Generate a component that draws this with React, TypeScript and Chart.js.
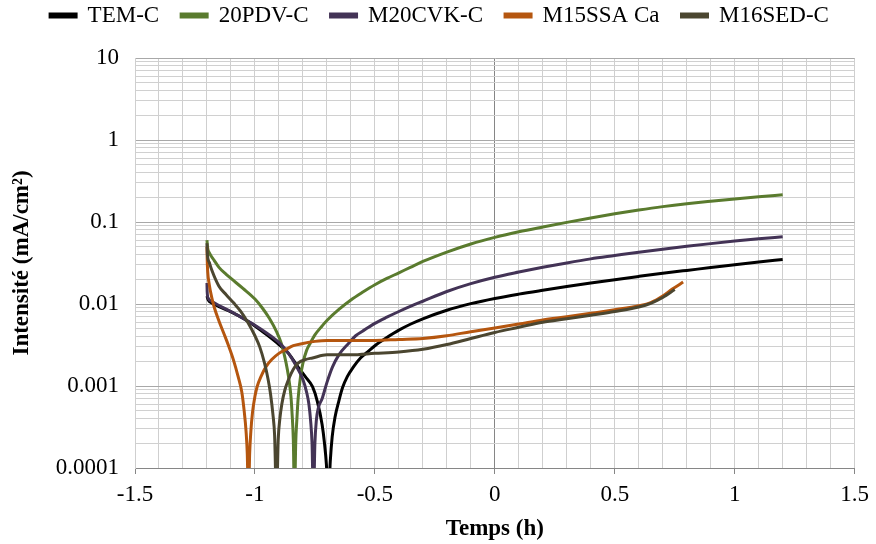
import React, { useEffect, useRef } from 'react';
import { Chart, registerables } from 'chart.js';

Chart.register(...registerables);

const seriesNames = ['TEM-C', '20PDV-C', 'M20CVK-C', 'M15SSA Ca', 'M16SED-C'];
const seriesColors = ['#000000', '#5a7b2e', '#433356', '#b5560f', '#4b4630'];

// TEM-C
const temX = [-1.2, -1.195, -1.18, -1.15, -1.1, -1.05, -1.0, -0.95, -0.9, -0.86, -0.82, -0.79, -0.76, -0.74, -0.72, -0.71, -0.702, -0.694, -0.686, -0.678, -0.666, -0.65, -0.635, -0.615, -0.59, -0.56, -0.53, -0.5, -0.45, -0.4, -0.35, -0.3, -0.2, -0.1, 0, 0.1, 0.2, 0.3, 0.4, 0.5, 0.6, 0.7, 0.8, 0.9, 1.0, 1.1, 1.2];
const temY = [0.0125, 0.0112, 0.0103, 0.0093, 0.008, 0.0067, 0.0054, 0.0042, 0.0032, 0.0025, 0.0017, 0.0013, 0.00098, 0.00065, 0.00034, 0.0002, 0.00011, 0.00004, 0.00012, 0.00024, 0.00042, 0.00066, 0.00095, 0.0013, 0.0017, 0.0022, 0.0026, 0.0031, 0.0039, 0.0048, 0.0057, 0.0066, 0.0084, 0.0101, 0.0117, 0.0132, 0.0147, 0.0163, 0.018, 0.0198, 0.0217, 0.0237, 0.0257, 0.0278, 0.0302, 0.0326, 0.035];

// 20PDV-C
const pdvX = [-1.2, -1.197, -1.19, -1.17, -1.15, -1.12, -1.1, -1.05, -1.0, -0.97, -0.94, -0.91, -0.89, -0.87, -0.86, -0.85, -0.845, -0.84, -0.835, -0.83, -0.825, -0.82, -0.81, -0.8, -0.785, -0.77, -0.75, -0.72, -0.7, -0.65, -0.6, -0.55, -0.5, -0.45, -0.4, -0.35, -0.3, -0.2, -0.1, 0, 0.1, 0.2, 0.3, 0.4, 0.5, 0.6, 0.7, 0.8, 0.9, 1.0, 1.1, 1.2];
const pdvY = [0.06, 0.048, 0.042, 0.034, 0.028, 0.023, 0.0205, 0.0155, 0.0115, 0.009, 0.0067, 0.0046, 0.0033, 0.0019, 0.0013, 0.00075, 0.00045, 0.00022, 0.00004, 0.0002, 0.0004, 0.0007, 0.0013, 0.0019, 0.0027, 0.0033, 0.0042, 0.0054, 0.0063, 0.0086, 0.0112, 0.014, 0.0172, 0.0205, 0.024, 0.0282, 0.033, 0.043, 0.054, 0.065, 0.076, 0.087, 0.099, 0.112, 0.126, 0.14, 0.154, 0.167, 0.179, 0.191, 0.203, 0.215];

// M20CVK-C
const cvkX = [-1.2, -1.199, -1.195, -1.18, -1.15, -1.1, -1.05, -1.0, -0.95, -0.9, -0.86, -0.83, -0.8, -0.785, -0.775, -0.768, -0.762, -0.756, -0.75, -0.744, -0.735, -0.72, -0.7, -0.677, -0.65, -0.61, -0.58, -0.55, -0.5, -0.45, -0.4, -0.35, -0.3, -0.2, -0.1, 0, 0.1, 0.2, 0.3, 0.4, 0.5, 0.6, 0.7, 0.8, 0.9, 1.0, 1.1, 1.2];
const cvkY = [0.018, 0.014, 0.0118, 0.0108, 0.0096, 0.0081, 0.0067, 0.0055, 0.0044, 0.0034, 0.0025, 0.0018, 0.0012, 0.00085, 0.0006, 0.00038, 0.0002, 0.00004, 0.0002, 0.00038, 0.00055, 0.0007, 0.0011, 0.0017, 0.0024, 0.0033, 0.0041, 0.0047, 0.0058, 0.0069, 0.0081, 0.0094, 0.0108, 0.0142, 0.0177, 0.0212, 0.0245, 0.028, 0.0317, 0.0355, 0.039, 0.0428, 0.0466, 0.0505, 0.0545, 0.0585, 0.0623, 0.066];

// M15SSA Ca
const ssaX = [-1.2, -1.199, -1.197, -1.19, -1.18, -1.17, -1.15, -1.13, -1.11, -1.09, -1.07, -1.055, -1.045, -1.037, -1.032, -1.027, -1.022, -1.017, -1.01, -1.0, -0.99, -0.975, -0.955, -0.93, -0.9, -0.87, -0.84, -0.8, -0.75, -0.7, -0.6, -0.5, -0.4, -0.3, -0.2, -0.1, 0, 0.1, 0.2, 0.3, 0.4, 0.5, 0.6, 0.65, 0.7, 0.74, 0.785];
const ssaY = [0.05, 0.035, 0.025, 0.017, 0.012, 0.0092, 0.0062, 0.0044, 0.0031, 0.0021, 0.0013, 0.00085, 0.0005, 0.00028, 0.00015, 0.00004, 0.00015, 0.00028, 0.00048, 0.00075, 0.001, 0.0013, 0.0017, 0.0021, 0.0025, 0.0028, 0.0031, 0.0033, 0.0035, 0.0036, 0.0036, 0.0036, 0.0037, 0.0038, 0.0041, 0.0046, 0.0051, 0.0057, 0.0064, 0.007, 0.0077, 0.0085, 0.0095, 0.0104, 0.0125, 0.0152, 0.0185];

// M16SED-C
const sedX = [-1.2, -1.198, -1.19, -1.18, -1.15, -1.12, -1.09, -1.06, -1.03, -1.0, -0.98, -0.96, -0.945, -0.935, -0.925, -0.918, -0.91, -0.903, -0.896, -0.888, -0.875, -0.86, -0.84, -0.82, -0.79, -0.76, -0.7, -0.6, -0.5, -0.4, -0.3, -0.2, -0.1, 0, 0.1, 0.2, 0.3, 0.4, 0.5, 0.6, 0.65, 0.7, 0.75];
const sedY = [0.055, 0.04, 0.032, 0.026, 0.0165, 0.013, 0.0104, 0.0082, 0.006, 0.0041, 0.003, 0.0019, 0.0012, 0.0008, 0.00045, 0.00025, 0.00004, 0.00022, 0.0004, 0.0006, 0.0009, 0.0012, 0.0016, 0.0019, 0.0021, 0.0022, 0.0024, 0.0024, 0.0025, 0.0026, 0.0028, 0.0032, 0.0038, 0.0045, 0.0052, 0.006, 0.0066, 0.0073, 0.0081, 0.0092, 0.0102, 0.012, 0.015];

const seriesX = [temX, pdvX, cvkX, ssaX, sedX];
const seriesY = [temY, pdvY, cvkY, ssaY, sedY];

const xMin = -1.5;
const xMax = 1.5;
const xGridStep = 0.1;
const xLabelValues = [-1.5, -1, -0.5, 0, 0.5, 1, 1.5];
const xLabelTexts = ['-1.5', '-1', '-0.5', '0', '0.5', '1', '1.5'];

const yDecades = [0.0001, 0.001, 0.01, 0.1, 1, 10];
const yDecadeLabels = ['0.0001', '0.001', '0.01', '0.1', '1', '10'];
const yMinorMultipliers = [2, 3, 4, 5, 6, 7, 8, 9];

const xTitle = 'Temps (h)';
const yTitle = 'Intensité (mA/cm²)';

const FONT = "'Liberation Serif', 'Times New Roman', serif";
const FS = 23;

function buildYTicks() {
  const out: number[] = [];
  yDecades.forEach((d, i) => {
    out.push(d);
    if (i < yDecades.length - 1) {
      yMinorMultipliers.forEach((m) => out.push(Number((d * m).toPrecision(6))));
    }
  });
  return out;
}

function buildXTicks() {
  const out: number[] = [];
  const n = Math.round((xMax - xMin) / xGridStep);
  for (let i = 0; i <= n; i++) out.push(Number((xMin + i * xGridStep).toFixed(4)));
  return out;
}

function isDecade(v: number) {
  const l = Math.log10(v);
  return Math.abs(l - Math.round(l)) < 1e-6;
}

function xLabelIndex(v: number) {
  return xLabelValues.findIndex((t) => Math.abs(t - v) < 1e-6);
}

export default function App() {
  const ref = useRef<HTMLCanvasElement | null>(null);

  useEffect(() => {
    if (!ref.current) return;
    const yTicks = buildYTicks();
    const xTicks = buildXTicks();

    const datasets = seriesNames.map((name, i) => ({
      label: name,
      data: seriesX[i].map((x, j) => ({ x, y: seriesY[i][j] })),
      borderColor: seriesColors[i],
      backgroundColor: seriesColors[i],
      borderWidth: 3,
      pointRadius: 0,
      fill: false,
      cubicInterpolationMode: 'monotone' as const,
      order: seriesNames.length - 1 - i,
    }));

    const legendHeightPlugin = {
      id: 'legendHeight',
      beforeLayout(chart: any) {
        const lg = chart.legend;
        if (lg && !lg._patchedFit) {
          const orig = lg.fit.bind(lg);
          lg.fit = function () {
            orig();
            this.height = 76;
          };
          lg._patchedFit = true;
        }
      },
      afterLayout(chart: any) {
        const lg = chart.legend;
        if (lg) {
          lg.left += 11;
          lg.right += 11;
        }
      },
    };

    const chart = new Chart(ref.current, {
      type: 'line',
      data: { datasets },
      plugins: [legendHeightPlugin],
      options: {
        animation: false,
        responsive: false,
        maintainAspectRatio: false,
        layout: { padding: { top: -18, right: 19, left: 0, bottom: 0 } },
        plugins: {
          legend: {
            position: 'top',
            labels: {
              font: { family: FONT, size: FS },
              color: '#000',
              boxWidth: 26,
              boxHeight: 3,
              padding: 22,
              sort: (a: any, b: any) => a.datasetIndex - b.datasetIndex,
            },
          },
          tooltip: { enabled: false },
        },
        scales: {
          x: {
            type: 'linear',
            min: xMin,
            max: xMax,
            afterBuildTicks: (s: any) => {
              s.ticks = xTicks.map((v) => ({ value: v }));
            },
            afterFit: (s: any) => {
              s.height = 76;
            },
            ticks: {
              autoSkip: false,
              maxRotation: 0,
              font: { family: FONT, size: FS },
              color: '#000',
              padding: 7,
              callback: (v: any) => {
                const k = xLabelIndex(Number(v));
                return k >= 0 ? xLabelTexts[k] : '';
              },
            },
            grid: {
              color: (ctx: any) => {
                const v = ctx.tick ? ctx.tick.value : NaN;
                return Math.abs(v) < 1e-6 ? '#868686' : '#cfcfcf';
              },
              lineWidth: 1,
              tickLength: 6,
              tickColor: (ctx: any) => {
                const v = ctx.tick ? ctx.tick.value : NaN;
                return xLabelIndex(v) >= 0 ? '#868686' : 'rgba(0,0,0,0)';
              },
            },
            border: { color: '#868686', width: 1 },
            title: {
              display: true,
              text: xTitle,
              color: '#000',
              font: { family: FONT, size: FS, weight: 'bold' },
              padding: { top: 0, bottom: 1 },
            },
          },
          y: {
            type: 'logarithmic',
            min: yDecades[0],
            max: yDecades[yDecades.length - 1],
            afterBuildTicks: (s: any) => {
              s.ticks = yTicks.map((v) => ({ value: v, major: isDecade(v) }));
            },
            afterFit: (s: any) => {
              s.width = 135;
            },
            ticks: {
              autoSkip: false,
              font: { family: FONT, size: FS },
              color: '#000',
              padding: 16,
              callback: (v: any) => {
                const k = yDecades.findIndex((d) => Math.abs(d - Number(v)) / d < 1e-6);
                return k >= 0 ? yDecadeLabels[k] : '';
              },
            },
            grid: {
              color: (ctx: any) => {
                const v = ctx.tick ? ctx.tick.value : NaN;
                return isDecade(v) ? '#a8a8a8' : '#d0d0d0';
              },
              lineWidth: 1,
              drawTicks: false,
            },
            border: { color: '#cfcfcf', width: 1 },
            title: {
              display: true,
              text: yTitle,
              color: '#000',
              font: { family: FONT, size: FS, weight: 'bold' },
              padding: { top: 8, bottom: 0 },
            },
          },
        },
      },
    } as any);

    return () => chart.destroy();
  }, []);

  return (
    <div style={{ position: 'absolute', left: 0, top: 0, width: 876, height: 544, background: '#fff' }}>
      <canvas ref={ref} width={876} height={544} style={{ display: 'block', width: 876, height: 544 }} />
    </div>
  );
}
